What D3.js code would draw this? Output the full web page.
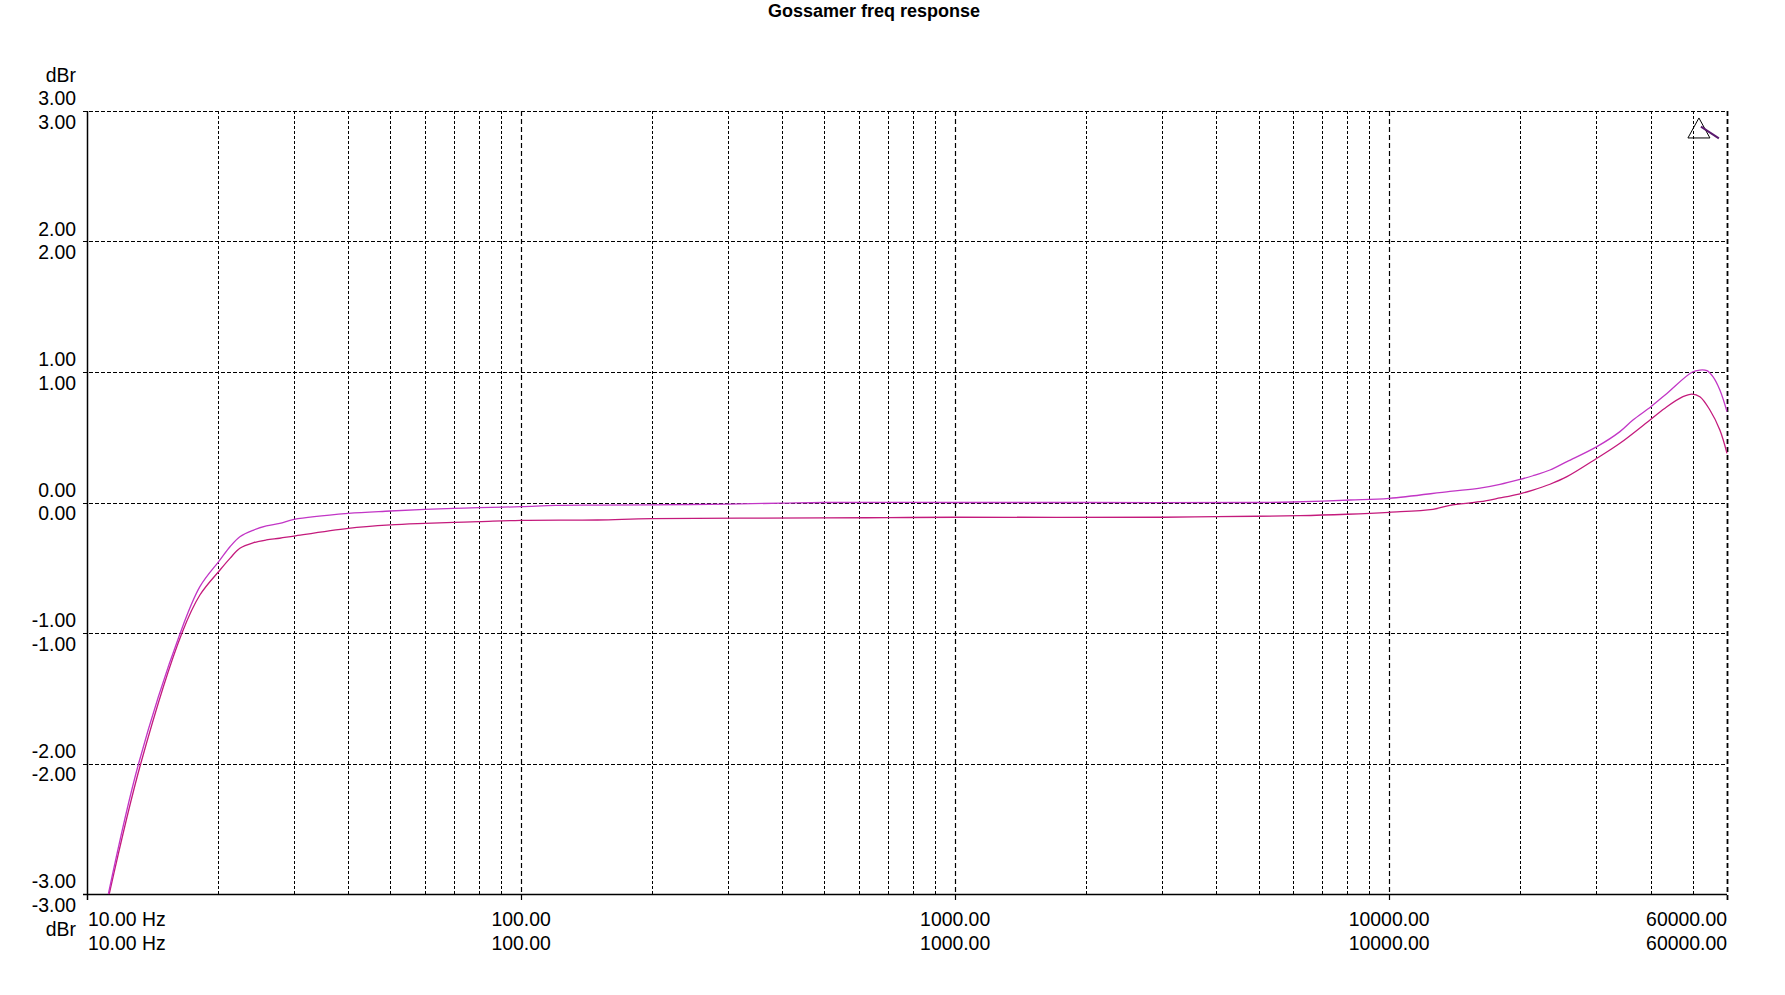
<!DOCTYPE html>
<html>
<head>
<meta charset="utf-8">
<script src="https://cdn.jsdelivr.net/npm/d3@7"></script>
<style>
  html, body { margin: 0; padding: 0; background: #ffffff; }
  svg { display: block; }
  text { font-family: "Liberation Sans", Arial, sans-serif; fill: #000; }
</style>
</head>
<body>
<script>
// ---------- data ----------
const chartTitle = "Gossamer freq response";
const yUnit = "dBr";
const yTicks = [-3, -2, -1, 0, 1, 2, 3];
const yTickLabels = ["-3.00", "-2.00", "-1.00", "0.00", "1.00", "2.00", "3.00"];
const xMajorTicks = [10, 100, 1000, 10000, 60000];
const xTickLabels = ["10.00 Hz", "100.00", "1000.00", "10000.00", "60000.00"];
const xMinorTicks = [20, 30, 40, 50, 60, 70, 80, 90,
                     200, 300, 400, 500, 600, 700, 800, 900,
                     2000, 3000, 4000, 5000, 6000, 7000, 8000, 9000,
                     20000, 30000, 40000, 50000];

// trace 1 (upper, violet-magenta)
const upperFreq = [11.2, 13.15, 16.4, 18.2, 20.25, 21.35, 22.5, 24.2, 25.9, 27.8, 30, 40, 50, 60, 70, 80, 100, 120, 150, 200, 300, 400, 500,
                   1000, 2000, 5000, 6000, 8120, 10000, 13800, 16180, 18000, 19900, 21430, 23460, 25670, 30090,
                   34000, 36430, 40070, 43620, 49820, 51960, 53930, 55680, 57770, 60000];
const upperDb   = [-3.0, -2.0, -1.0, -0.645, -0.44, -0.339, -0.262, -0.211, -0.18, -0.16, -0.129, -0.083, -0.065, -0.052, -0.045, -0.04, -0.032, -0.022, -0.02, -0.018, -0.012, -0.005, 0.0,
                   0.0, 0.0, 0.0, 0.004, 0.019, 0.032, 0.085, 0.11, 0.139, 0.175, 0.205, 0.249, 0.313, 0.428,
                   0.543, 0.632, 0.734, 0.836, 0.998, 1.015, 1.01, 0.964, 0.862, 0.696];

// trace 2 (lower, crimson-magenta)
const lowerFreq = [11.25, 13.3, 16.55, 18.2, 20.25, 21.35, 22.5, 24.2, 25.9, 27.8, 30, 40, 50, 60, 70, 80, 100, 150, 200, 500, 700,
                   1000, 3000, 4000, 6230, 7990, 10000, 12610, 13800, 16180, 18000, 19900, 21430, 23460, 25670,
                   30090, 34000, 40070, 43620, 47500, 49820, 51960, 54800, 57770, 60000];
const lowerDb   = [-3.0, -2.0, -1.0, -0.709, -0.517, -0.428, -0.351, -0.308, -0.287, -0.274, -0.257, -0.198, -0.172, -0.16, -0.152, -0.147, -0.137, -0.134, -0.124, -0.118, -0.116,
                   -0.113, -0.113, -0.108, -0.101, -0.09, -0.075, -0.052, -0.022, 0.006, 0.035, 0.065, 0.095, 0.14, 0.198,
                   0.339, 0.454, 0.638, 0.734, 0.811, 0.831, 0.811, 0.709, 0.556, 0.377];

// cursor marker (triangle + short segment) near top right
const markerFreq = 51700;
const markerDb = 2.87;
const markerSegFreq = [52250, 57470];
const markerSegDb = [2.88, 2.79];

// ---------- layout ----------
const W = 1785, H = 995;
const pLeft = 87, pRight = 1727, pTop = 111, pBottom = 894;

const svg = d3.select("body").append("svg").attr("width", W).attr("height", H);

const x = d3.scaleLog().domain([10, 60000]).range([pLeft, pRight]);
const y = d3.scaleLinear().domain([-3, 3]).range([pBottom, pTop]);

// title
svg.append("text").attr("x", 874).attr("y", 17).attr("text-anchor", "middle")
  .style("font-weight", "bold").style("font-size", "18px").text(chartTitle);

// horizontal gridlines
const grid = svg.append("g");
yTicks.forEach(v => {
  if (v === -3) return;
  grid.append("line")
    .attr("x1", pLeft - 4).attr("x2", pRight)
    .attr("y1", Math.round(y(v)) + 0.5).attr("y2", Math.round(y(v)) + 0.5)
    .attr("stroke", "#000").attr("stroke-width", 1.2)
    .attr("stroke-dasharray", "4,2");
});

// minor vertical gridlines
xMinorTicks.forEach(f => {
  grid.append("line")
    .attr("x1", Math.round(x(f)) + 0.5).attr("x2", Math.round(x(f)) + 0.5)
    .attr("y1", pTop).attr("y2", pBottom)
    .attr("stroke", "#000").attr("stroke-width", 1)
    .attr("stroke-dasharray", "3,2");
});

// major vertical gridlines (extend below axis)
xMajorTicks.forEach(f => {
  if (f === 10) return;
  grid.append("line")
    .attr("x1", Math.round(x(f)) + 0.5).attr("x2", Math.round(x(f)) + 0.5)
    .attr("y1", pTop).attr("y2", pBottom + 6)
    .attr("stroke", "#000").attr("stroke-width", f === 60000 ? 1.8 : 1.2)
    .attr("stroke-dasharray", "5,3");
});

// axes (solid)
svg.append("line").attr("x1", pLeft + 0.5).attr("x2", pLeft + 0.5)
  .attr("y1", pTop).attr("y2", pBottom + 6).attr("stroke", "#000").attr("stroke-width", 1.5);
svg.append("line").attr("x1", pLeft - 4).attr("x2", pRight)
  .attr("y1", pBottom + 0.5).attr("y2", pBottom + 0.5).attr("stroke", "#000").attr("stroke-width", 1.5);

// y labels (doubled)
const fs = "19.4px";
yTicks.forEach((v, i) => {
  svg.append("text").attr("x", 76).attr("y", y(v) - 5.7).attr("text-anchor", "end")
    .style("font-size", fs).text(yTickLabels[i]);
  svg.append("text").attr("x", 76).attr("y", y(v) + 17.7).attr("text-anchor", "end")
    .style("font-size", fs).text(yTickLabels[i]);
});
svg.append("text").attr("x", 76).attr("y", y(3) - 29).attr("text-anchor", "end")
  .style("font-size", fs).text(yUnit);
svg.append("text").attr("x", 76).attr("y", y(-3) + 42).attr("text-anchor", "end")
  .style("font-size", fs).text(yUnit);

// x labels (doubled)
xMajorTicks.forEach((f, i) => {
  const anchor = i === 0 ? "start" : (i === xMajorTicks.length - 1 ? "end" : "middle");
  const px = i === 0 ? x(f) + 1 : x(f);
  [926, 950].forEach(by => {
    svg.append("text").attr("x", px).attr("y", by).attr("text-anchor", anchor)
      .style("font-size", fs).text(xTickLabels[i]);
  });
});

// traces
const line = d3.line().x(d => x(d[0])).y(d => y(d[1])).curve(d3.curveCatmullRom.alpha(0.5));
svg.append("path").datum(d3.zip(lowerFreq, lowerDb))
  .attr("d", line).attr("fill", "none").attr("stroke", "#c41a7c").attr("stroke-width", 1.3);
svg.append("path").datum(d3.zip(upperFreq, upperDb))
  .attr("d", line).attr("fill", "none").attr("stroke", "#c236c6").attr("stroke-width", 1.3);

// cursor marker
const mx = x(markerFreq), my = y(markerDb);
svg.append("path")
  .attr("d", `M${mx},${my - 10} L${mx + 11},${my + 10} L${mx - 11},${my + 10} Z`)
  .attr("fill", "none").attr("stroke", "#000").attr("stroke-width", 1);
svg.append("line")
  .attr("x1", x(markerSegFreq[0])).attr("y1", y(markerSegDb[0]))
  .attr("x2", x(markerSegFreq[1])).attr("y2", y(markerSegDb[1]))
  .attr("stroke", "#5a1a6e").attr("stroke-width", 2);
</script>
</body>
</html>
